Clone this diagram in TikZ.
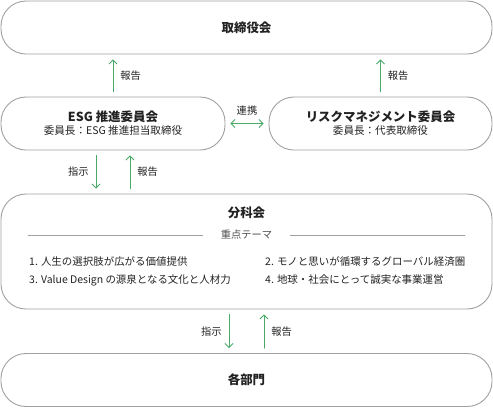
\documentclass[tikz,border=0pt]{standalone}
\usepackage{fontspec}
\setmainfont{Noto Sans CJK JP}
\usetikzlibrary{positioning,arrows.meta}
\definecolor{arrowgreen}{RGB}{72,170,102}
\definecolor{boxgray}{RGB}{160,160,160}
\definecolor{textdark}{RGB}{34,34,34}
\tikzset{
  box/.style={draw=boxgray, line width=0.9bp, rounded corners=25bp, inner sep=0pt,
    text=textdark, align=center},
  arr/.style={draw=arrowgreen, line width=0.9bp, -{Straight Barb[length=4bp,width=8bp]},
    shorten >=5bp, shorten <=5bp},
  lbl/.style={font=\fontsize{10.3}{12}\selectfont, text=textdark, inner sep=0pt},
  title/.style={font=\bfseries\fontsize{12.5}{15}\selectfont},
  item/.style={font=\fontsize{10.5}{13}\selectfont, text=textdark, inner sep=0pt, anchor=west}
}
\begin{document}
\begin{tikzpicture}[x=1bp, y=-1bp, line join=round, line cap=round]
  \useasboundingbox (0,0) rectangle (493,407);
  % boxes
  \node[box, minimum width=491bp, minimum height=53bp] (board) at (246.5,27.5)
    {\fontsize{12.5}{15}\selectfont\bfseries 取締役会};
  \node[box, minimum width=224bp, minimum height=53bp] (esg) at (113,123.5)
    {{\bfseries\fontsize{12.5}{15}\selectfont ESG 推進委員会}\\[1bp]
     {\fontsize{10.6}{12}\selectfont 委員長：ESG 推進担当取締役}};
  \node[box, minimum width=223bp, minimum height=53bp] (risk) at (380.5,123.5)
    {{\bfseries\fontsize{12.5}{15}\selectfont リスクマネジメント委員会}\\[1bp]
     {\fontsize{10.6}{12}\selectfont 委員長：代表取締役}};
  \node[box, minimum width=491bp, minimum height=115bp] (bunka) at (246.5,251.5) {};
  \node[box, minimum width=491bp, minimum height=53bp] (depts) at (246.5,380)
    {\fontsize{12.5}{15}\selectfont\bfseries 各部門};
  % inside 分科会
  \node[title, text=textdark, inner sep=0pt] (bunkat) at (246.5,213) {分科会};
  \node[lbl, text=black!70] (theme) at (246.5,235) {重点テーマ};
  \draw[boxgray, line width=0.7bp] (28,235) -- ([xshift=-18bp]theme.west);
  \draw[boxgray, line width=0.7bp] (465,235) -- ([xshift=18bp]theme.east);
  \node[item] (it1) at (29,262) {1. 人生の選択肢が広がる価値提供};
  \node[item] (it3) at (29,280) {3. Value Design の源泉となる文化と人材力};
  \node[item] (it2) at (265,262) {2. モノと思いが循環するグローバル経済圏};
  \node[item] (it4) at (265,280) {4. 地球・社会にとって誠実な事業運営};
  % connectors
  \draw[arr] (esg.north) -- (esg.north |- board.south)
    node[lbl, midway, right=7bp] {報告};
  \draw[arr] (risk.north) -- (risk.north |- board.south)
    node[lbl, midway, right=7bp] {報告};
  \draw[arr, {Straight Barb[length=4bp,width=8bp]}-{Straight Barb[length=4bp,width=8bp]}]
    (esg.east) -- (risk.west) node[lbl, midway, above=8bp] {連携};
  \draw[arr] ([xshift=-17bp]esg.south) -- ([xshift=-17bp]esg.south |- bunka.north)
    node[lbl, midway, left=7bp] {指示};
  \draw[arr] ([xshift=17bp]esg.south |- bunka.north) -- ([xshift=17bp]esg.south)
    node[lbl, midway, right=7bp] {報告};
  \draw[arr] ([xshift=-17.5bp]bunka.south) -- ([xshift=-17.5bp]bunka.south |- depts.north)
    node[lbl, midway, left=7bp] {指示};
  \draw[arr] ([xshift=17.5bp]bunka.south |- depts.north) -- ([xshift=17.5bp]bunka.south)
    node[lbl, midway, right=7bp] {報告};
\end{tikzpicture}
\end{document}
